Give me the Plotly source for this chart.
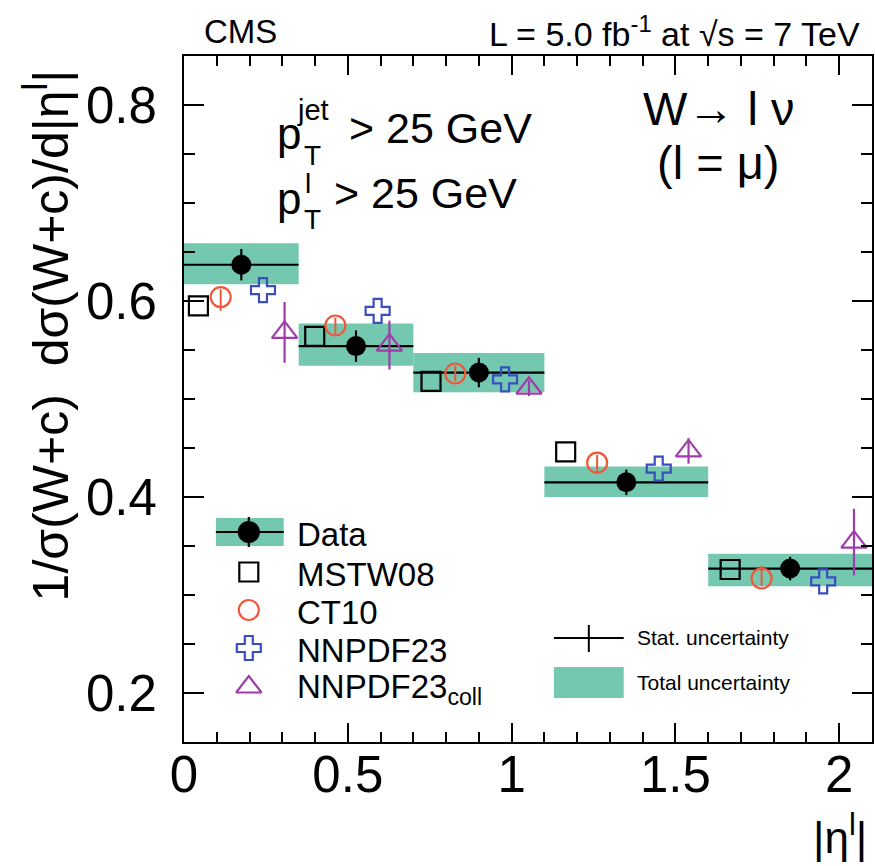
import plotly.graph_objects as go

# ---- data ----
bin_lo = [0.0, 0.35, 0.70, 1.10, 1.60]
bin_hi = [0.35, 0.70, 1.10, 1.60, 2.10]
data_x = [0.175, 0.525, 0.90, 1.35, 1.85]
data_y = [0.637, 0.554, 0.527, 0.415, 0.327]
stat_err = [0.016, 0.016, 0.015, 0.013, 0.012]
tot_lo = [0.617, 0.534, 0.507, 0.400, 0.309]
tot_hi = [0.659, 0.577, 0.547, 0.431, 0.342]

mstw_x = [0.044, 0.399, 0.754, 1.165, 1.667]
mstw_y = [0.595, 0.564, 0.518, 0.446, 0.326]

ct10_x = [0.112, 0.462, 0.828, 1.261, 1.763]
ct10_y = [0.604, 0.575, 0.526, 0.435, 0.317]
ct10_up = [0.008, 0.008, 0.008, 0.008, 0.013]
ct10_dn = [0.014, 0.010, 0.008, 0.010, 0.008]

nnpdf_x = [0.241, 0.591, 0.980, 1.449, 1.951]
nnpdf_y = [0.611, 0.590, 0.520, 0.429, 0.314]

coll_x = [0.307, 0.627, 1.053, 1.540, 2.045]
coll_y = [0.568, 0.555, 0.511, 0.447, 0.354]
coll_err = [0.031, 0.025, 0.008, 0.013, 0.034]

x_ticks = [0, 0.5, 1, 1.5, 2]
y_ticks = [0.2, 0.4, 0.6, 0.8]

GREEN = "rgb(116,200,176)"
RED = "rgb(240,88,58)"
BLUE = "rgb(58,78,190)"
PURPLE = "rgb(160,60,170)"
FONT = "Liberation Sans, Arial, sans-serif"

# plot area in page pixels
L, R, T, B = 184, 874, 56, 742
W, H = 875, 866


def px(x):
    return (x - L) / (R - L)


def py(y):
    return (B - y) / (B - T)


fig = go.Figure()

# total uncertainty boxes
fig.add_trace(go.Bar(
    x=[(a + b) / 2 for a, b in zip(bin_lo, bin_hi)],
    y=[h - l for l, h in zip(tot_lo, tot_hi)],
    base=tot_lo,
    width=[b - a for a, b in zip(bin_lo, bin_hi)],
    marker=dict(color=GREEN, line=dict(width=0)),
    hoverinfo="skip", showlegend=False,
))

# data with stat errors and bin-width horizontal bars
fig.add_trace(go.Scatter(
    x=data_x, y=data_y, mode="markers",
    marker=dict(symbol="circle", size=20, color="black"),
    error_x=dict(type="data", symmetric=False,
                 array=[h - c for c, h in zip(data_x, bin_hi)],
                 arrayminus=[c - l for c, l in zip(data_x, bin_lo)],
                 width=0, thickness=2.2, color="black"),
    error_y=dict(type="data", array=stat_err, width=0, thickness=2.2, color="black"),
    showlegend=False,
))

fig.add_trace(go.Scatter(
    x=mstw_x, y=mstw_y, mode="markers",
    marker=dict(symbol="square-open", size=19, color="black", line=dict(width=2.2)),
    showlegend=False,
))
fig.add_trace(go.Scatter(
    x=ct10_x, y=ct10_y, mode="markers",
    marker=dict(symbol="circle", size=20, color="rgba(0,0,0,0)",
                line=dict(width=2.2, color=RED)),
    error_y=dict(type="data", symmetric=False, array=ct10_up, arrayminus=ct10_dn,
                 width=0, thickness=2, color=RED),
    showlegend=False,
))
fig.add_trace(go.Scatter(
    x=nnpdf_x, y=nnpdf_y, mode="markers",
    marker=dict(symbol="cross-open", size=20, color=BLUE, line=dict(width=2.2)),
    showlegend=False,
))
fig.add_trace(go.Scatter(
    x=coll_x, y=coll_y, mode="markers",
    marker=dict(symbol="triangle-up-open", size=22, color=PURPLE, line=dict(width=2.2)),
    error_y=dict(type="data", array=coll_err, width=0, thickness=2.2, color=PURPLE),
    showlegend=False,
))

# ---- legend symbols on a pixel-unit overlay axis ----
leg_x = [249, 249, 249, 249, 249]
leg_y = [532, 572, 610, 648, 687]
leg_sym = ["circle", "square-open", "circle-open", "cross-open", "triangle-up-open"]
leg_col = ["black", "black", RED, BLUE, PURPLE]
leg_size = [20, 19, 20, 20, 22]
leg_txt = ["Data", "MSTW08", "CT10", "NNPDF23", "NNPDF23<sub>coll</sub>"]

shapes = [
    dict(type="rect", xref="x2", yref="y2", x0=216, x1=284, y0=518, y1=546,
         fillcolor=GREEN, line=dict(width=0), layer="below"),
    dict(type="line", xref="x2", yref="y2", x0=216, x1=284, y0=532, y1=532,
         line=dict(color="black", width=2.2)),
    dict(type="line", xref="x2", yref="y2", x0=249, x1=249, y0=517, y1=547,
         line=dict(color="black", width=2.2)),
    dict(type="line", xref="x2", yref="y2", x0=555, x1=625, y0=638, y1=638,
         line=dict(color="black", width=2)),
    dict(type="line", xref="x2", yref="y2", x0=590, x1=590, y0=625, y1=652,
         line=dict(color="black", width=2)),
    dict(type="rect", xref="x2", yref="y2", x0=555, x1=625, y0=667, y1=698,
         fillcolor=GREEN, line=dict(width=0), layer="below"),
]

for xx, yy, s, c, sz in zip(leg_x, leg_y, leg_sym, leg_col, leg_size):
    fig.add_trace(go.Scatter(
        x=[xx], y=[yy], mode="markers", xaxis="x2", yaxis="y2",
        marker=dict(symbol=s, size=sz, color=c, line=dict(width=2.2, color=c)),
        showlegend=False, hoverinfo="skip",
    ))

annotations = []


def ann(text, x, y, size, xanchor="left", yanchor="middle", angle=0):
    annotations.append(dict(
        text=text, x=px(x), y=py(y), xref="paper", yref="paper",
        xanchor=xanchor, yanchor=yanchor, showarrow=False, textangle=angle,
        font=dict(family=FONT, size=size, color="black"),
    ))


for t, yy in zip(leg_txt, leg_y):
    ann(t, 295, yy + 2, 33)

ann("Stat. uncertainty", 636, 637, 21)
ann("Total uncertainty", 636, 682, 21)

# header
ann("CMS", 202, 32, 33)
ann("L = 5.0 fb<sup>-1</sup> at √s = 7 TeV", 864, 32, 34, xanchor="right")

# cut labels
ann("p", 275, 133, 44)
ann("jet", 295, 110, 29)
ann("T", 302, 155, 28)
ann("> 25 GeV", 347, 128, 43)
ann("p", 275, 198, 44)
ann("l", 303, 183, 28)
ann("T", 302, 220, 28)
ann("> 25 GeV", 332, 193, 43)

# channel
ann("W→ l ν", 720, 108, 47, xanchor="center")
ann("(l = μ)", 720, 162, 47, xanchor="center")

# axis titles
ann("1/σ(W+c)  dσ(W+c)/d|η<sup>l</sup>|", 47, 335, 50, xanchor="center", angle=-90)
ann("|η<sup>l</sup>|", 842, 834, 44, xanchor="center")

axis_common = dict(
    showline=True, linecolor="black", linewidth=2, mirror="allticks",
    ticks="inside", tickcolor="black", tickwidth=2, showgrid=False,
    zeroline=False, tickfont=dict(family=FONT, size=51, color="black"),
)

fig.update_layout(
    width=W, height=H,
    margin=dict(l=L, r=W - R, t=T, b=H - B, pad=0),
    paper_bgcolor="white", plot_bgcolor="white",
    barmode="overlay", showlegend=False,
    xaxis=dict(range=[0, 2.1], tickvals=x_ticks, ticklen=19,
               ticklabelstandoff=-13,
               minor=dict(dtick=0.1, tick0=0, ticklen=10, ticks="inside",
                          tickcolor="black", tickwidth=2),
               **axis_common),
    yaxis=dict(range=[0.15, 0.85], tickvals=y_ticks, ticklen=20,
               ticklabelstandoff=15,
               minor=dict(dtick=0.05, tick0=0, ticklen=11, ticks="inside",
                          tickcolor="black", tickwidth=2),
               **axis_common),
    xaxis2=dict(overlaying="x", range=[L, R], visible=False, fixedrange=True),
    yaxis2=dict(overlaying="y", range=[B, T], visible=False, fixedrange=True),
    shapes=shapes,
    annotations=annotations,
)

fig.write_html("out.html")
